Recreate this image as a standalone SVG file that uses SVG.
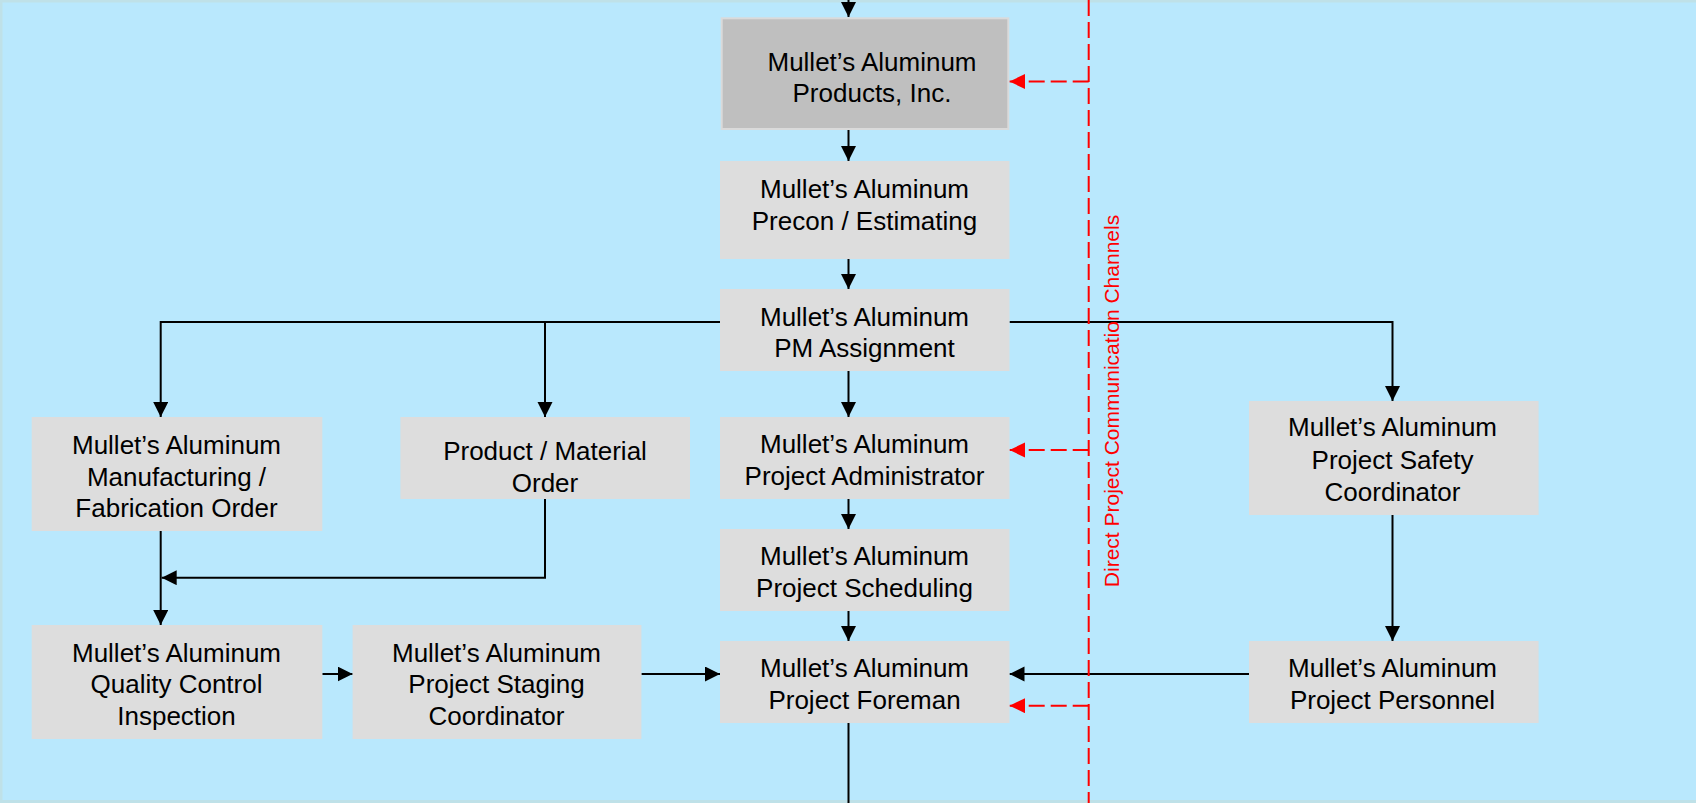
<svg xmlns="http://www.w3.org/2000/svg" width="1696" height="803" viewBox="0 0 1696 803">
<style>
.box{fill:#dddddd}
.top{fill:#bfbfbf;stroke:#dadada;stroke-width:2}
.t{font-family:"Liberation Sans",Arial,sans-serif;font-size:26px;fill:#000;text-anchor:middle}
.c{fill:none;stroke:#000;stroke-width:2}
.r{fill:none;stroke:#ff0000;stroke-width:2;stroke-dasharray:16 6}
.rt{font-family:"Liberation Sans",Arial,sans-serif;font-size:21px;fill:#ff0000;text-anchor:middle}
</style>
<defs>
<marker id="ab" markerUnits="userSpaceOnUse" markerWidth="16" markerHeight="16" refX="15" refY="7.5" orient="auto" viewBox="0 0 16 16"><path d="M0,0 L15,7.5 L0,15 z" fill="#000"/></marker>
<marker id="ar" markerUnits="userSpaceOnUse" markerWidth="16" markerHeight="16" refX="15.5" refY="7.5" orient="auto" viewBox="0 0 16 16"><path d="M0,0 L15.5,7.5 L0,15 z" fill="#ff0000"/></marker>
</defs>
<rect x="0" y="0" width="1696" height="803" fill="#b9e8fd"/>
<rect x="0" y="0" width="1696" height="2.5" fill="#bfe1e8"/>
<rect x="0" y="0" width="2.5" height="803" fill="#bfe1e8"/>
<rect x="0" y="800" width="1696" height="3" fill="#bfe1e8"/>

<g id="connectors">
<path class="c" d="M848.5,0 V17" marker-end="url(#ab)"/>
<path class="c" d="M848.5,130 V161" marker-end="url(#ab)"/>
<path class="c" d="M848.5,259 V289" marker-end="url(#ab)"/>
<path class="c" d="M848.5,371 V417" marker-end="url(#ab)"/>
<path class="c" d="M848.5,499 V529" marker-end="url(#ab)"/>
<path class="c" d="M848.5,611 V641" marker-end="url(#ab)"/>
<path class="c" d="M848.5,723 V803"/>
<path class="c" d="M720,322 H160.7 V417" marker-end="url(#ab)"/>
<path class="c" d="M545,322 V417" marker-end="url(#ab)"/>
<path class="c" d="M1009.5,322 H1392.5 V401" marker-end="url(#ab)"/>
<path class="c" d="M160.7,531 V625" marker-end="url(#ab)"/>
<path class="c" d="M545,499 V577.7 H161.7" marker-end="url(#ab)"/>
<path class="c" d="M322.3,674 H352.6" marker-end="url(#ab)"/>
<path class="c" d="M641.4,674 H720" marker-end="url(#ab)"/>
<path class="c" d="M1249,674 H1009.5" marker-end="url(#ab)"/>
<path class="c" d="M1392.5,515 V641" marker-end="url(#ab)"/>
<path class="r" d="M1088.7,0 V803"/>
<path class="r" d="M1088.7,81.5 H1009.5" marker-end="url(#ar)"/>
<path class="r" d="M1088.7,450 H1009.5" marker-end="url(#ar)"/>
<path class="r" d="M1088.7,705.7 H1009.5" marker-end="url(#ar)"/>
</g>

<g id="n-products">
<rect class="top" x="721.7" y="18.3" width="286.6" height="110.7"/>
<text class="t" x="872" y="70.7">Mullet’s Aluminum</text>
<text class="t" x="872" y="101.7">Products, Inc.</text>
</g>
<g id="n-precon">
<rect class="box" x="720" y="161" width="289.5" height="98"/>
<text class="t" x="864.5" y="197.5">Mullet’s Aluminum</text>
<text class="t" x="864.5" y="229.5">Precon / Estimating</text>
</g>
<g id="n-pm">
<rect class="box" x="720" y="289" width="289.5" height="82"/>
<text class="t" x="864.5" y="325.5">Mullet’s Aluminum</text>
<text class="t" x="864.5" y="357.3">PM Assignment</text>
</g>
<g id="n-admin">
<rect class="box" x="720" y="417" width="289.5" height="82"/>
<text class="t" x="864.5" y="453">Mullet’s Aluminum</text>
<text class="t" x="864.5" y="484.8">Project Administrator</text>
</g>
<g id="n-sched">
<rect class="box" x="720" y="529" width="289.5" height="82"/>
<text class="t" x="864.5" y="565.3">Mullet’s Aluminum</text>
<text class="t" x="864.5" y="597">Project Scheduling</text>
</g>
<g id="n-foreman">
<rect class="box" x="720" y="641" width="289.5" height="82"/>
<text class="t" x="864.5" y="677">Mullet’s Aluminum</text>
<text class="t" x="864.5" y="709">Project Foreman</text>
</g>
<g id="n-mfg">
<rect class="box" x="31.7" y="417" width="290.6" height="114"/>
<text class="t" x="176.5" y="454">Mullet’s Aluminum</text>
<text class="t" x="176.5" y="485.5">Manufacturing /</text>
<text class="t" x="176.5" y="517">Fabrication Order</text>
</g>
<g id="n-product">
<rect class="box" x="400.4" y="417" width="289.6" height="82"/>
<text class="t" x="545" y="460">Product / Material</text>
<text class="t" x="545" y="491.7">Order</text>
</g>
<g id="n-qc">
<rect class="box" x="31.7" y="625" width="290.6" height="114"/>
<text class="t" x="176.5" y="661.7">Mullet’s Aluminum</text>
<text class="t" x="176.5" y="693.3">Quality Control</text>
<text class="t" x="176.5" y="725">Inspection</text>
</g>
<g id="n-staging">
<rect class="box" x="352.6" y="625" width="288.8" height="114"/>
<text class="t" x="496.5" y="661.7">Mullet’s Aluminum</text>
<text class="t" x="496.5" y="693.3">Project Staging</text>
<text class="t" x="496.5" y="725">Coordinator</text>
</g>
<g id="n-safety">
<rect class="box" x="1249" y="401" width="289.6" height="114"/>
<text class="t" x="1392.5" y="436.3">Mullet’s Aluminum</text>
<text class="t" x="1392.5" y="468.5">Project Safety</text>
<text class="t" x="1392.5" y="500.5">Coordinator</text>
</g>
<g id="n-personnel">
<rect class="box" x="1249" y="641" width="289.6" height="82"/>
<text class="t" x="1392.5" y="677">Mullet’s Aluminum</text>
<text class="t" x="1392.5" y="709">Project Personnel</text>
</g>
<g id="channel-label">
<text class="rt" transform="translate(1119,401) rotate(-90)">Direct Project Communication Channels</text>
</g>
</svg>
